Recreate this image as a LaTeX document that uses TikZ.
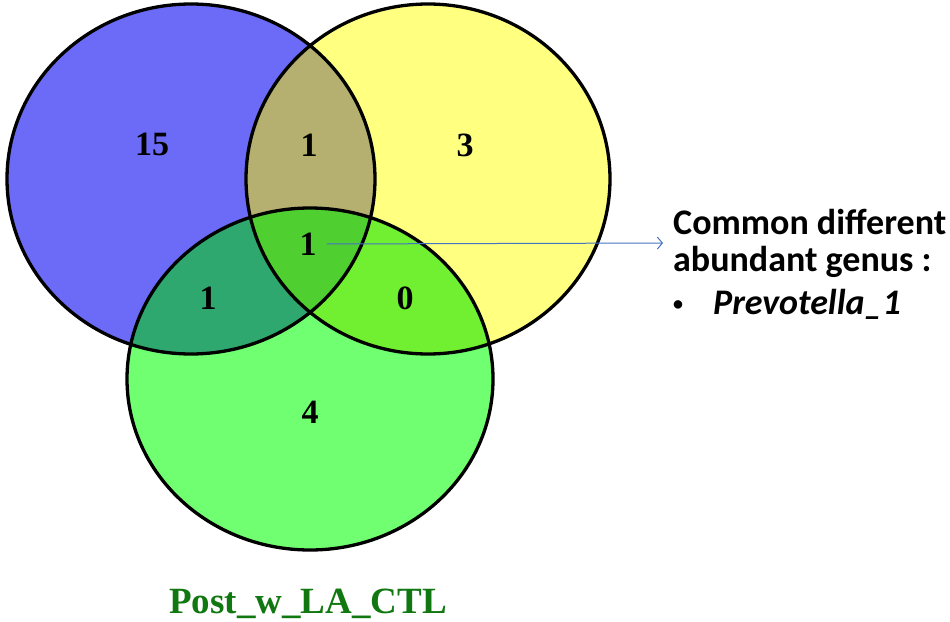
\documentclass[tikz,border=0pt]{standalone}
\usepackage{fontspec}
\setmainfont{Liberation Serif}
\newfontfamily\calibfont{Carlito}
\usetikzlibrary{arrows.meta}
\definecolor{setblue}{HTML}{6B6BF8}
\definecolor{setyellow}{HTML}{FFFF80}
\definecolor{setgreen}{HTML}{70FF70}
\definecolor{blueyellow}{HTML}{B5B070}
\definecolor{bluegreen}{HTML}{2EA86E}
\definecolor{yellowgreen}{HTML}{70F030}
\definecolor{allthree}{HTML}{50D030}
\definecolor{titlegreen}{HTML}{117711}
\definecolor{arrowblue}{HTML}{4472C4}

\begin{document}
\begin{tikzpicture}[x=1pt,y=-1pt,
    num/.style={font=\fontsize{34}{34}\selectfont\bfseries, inner sep=2pt},
    note/.style={font=\calibfont\fontsize{36}{37}\selectfont\bfseries, align=left, inner sep=0pt},
    rim/.style={line width=3.3pt}]
    \useasboundingbox (0,0) rectangle (950,621);
    \def\setA{(191,179) ellipse [x radius=184pt, y radius=175pt]}
    \def\setB{(428,179) ellipse [x radius=182pt, y radius=175pt]}
    \def\setC{(310,379) ellipse [x radius=183pt, y radius=171pt]}

    \fill[setblue] \setA;
    \fill[setyellow] \setB;
    \fill[setgreen] \setC;
    \begin{scope}
        \clip \setA;
        \fill[blueyellow] \setB;
        \fill[bluegreen] \setC;
        \clip \setB;
        \fill[allthree] \setC;
    \end{scope}
    \begin{scope}
        \clip \setB;
        \path[clip] \setC;
        \fill[yellowgreen] (0,0) rectangle (950,621);
        \fill[allthree] \setA;
    \end{scope}
    \draw[rim] \setA;
    \draw[rim] \setB;
    \draw[rim] \setC;

    \node[num] (a) at (152,144) {15};
    \node[num] (ab) at (309,145) {1};
    \node[num] (b) at (465,145) {3};
    \node[num] (abc) at (308,244) {1};
    \node[num] (ac) at (208,298) {1};
    \node[num] (bc) at (405,298) {0};
    \node[num] (c) at (310,412) {4};
    \node[num, font=\fontsize{37}{37}\selectfont\bfseries, text=titlegreen, anchor=base] (title) at (308,613) {Post\_w\_LA\_CTL};

    \node[note, anchor=west] (head) at (673,243) {Common different\\abundant genus :};
    \node[note, anchor=base west] (item) at (673,314) {\raisebox{4pt}{\fontsize{20}{20}\selectfont\textbullet}\hspace{30pt}\textit{Prevotella\_1}};

    \draw[-{Straight Barb[length=5pt,width=12pt]}, arrowblue, line width=1pt, shorten <=8pt, shorten >=10pt] (abc.east) -- (head.west);
\end{tikzpicture}
\end{document}
